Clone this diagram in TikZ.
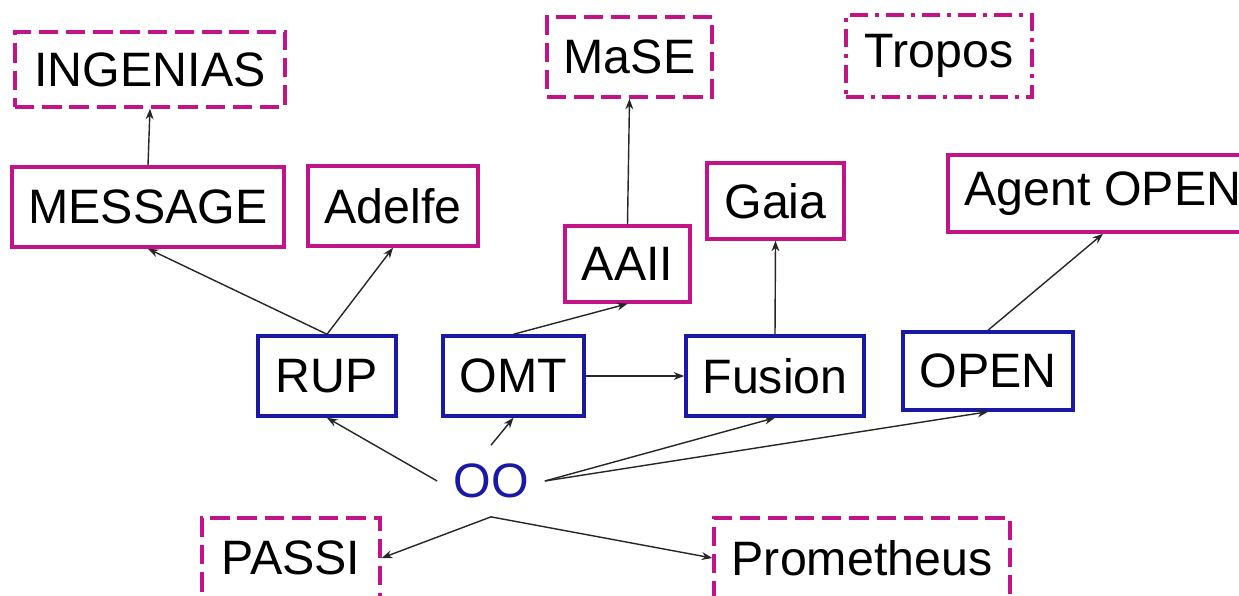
\documentclass[tikz,border=0pt]{standalone}
\usepackage{fontspec}
\setmainfont{Liberation Sans}
\usetikzlibrary{arrows.meta}
\definecolor{mag}{RGB}{195,20,135}
\definecolor{dblue}{RGB}{25,25,165}
\tikzset{
  box/.style={draw, line width=2pt, inner sep=0pt, font=\fontsize{27.5}{32}\selectfont},
  mbox/.style={box, draw=mag},
  bbox/.style={box, draw=dblue},
  dbox/.style={box, draw=mag, dash pattern=on 11pt off 4.5pt},
  ddbox/.style={box, draw=mag, dash pattern=on 10pt off 4pt on 2.5pt off 4pt},
  conn/.style={draw=black!85, line width=0.8pt, -{Stealth[length=6pt,width=4.5pt]}},
}
\begin{document}
\begin{tikzpicture}[x=0.02cm,y=-0.02cm]
\useasboundingbox (0,0) rectangle (1239,595);
\fill[white] (0,0) rectangle (1239,595);
\node[dbox, minimum width=270*0.02cm, minimum height=75*0.02cm] (ingenias) at (150,69.5) {INGENIAS};
\node[mbox, minimum width=272*0.02cm, minimum height=80*0.02cm] (message) at (148,207) {MESSAGE};
\node[mbox, minimum width=170*0.02cm, minimum height=80*0.02cm] (adelfe) at (393,206) {Adelfe};
\node[dbox, minimum width=165*0.02cm, minimum height=80*0.02cm] (mase) at (629.5,57) {MaSE};
\node[ddbox, minimum width=186*0.02cm, minimum height=82*0.02cm] (tropos) at (939,56) {Tropos};
\node[mbox, minimum width=125*0.02cm, minimum height=76*0.02cm] (aaii) at (627.5,264) {AAII};
\node[mbox, minimum width=137*0.02cm, minimum height=76*0.02cm] (gaia) at (775.5,201) {Gaia};
\node[mbox, minimum width=310*0.02cm, minimum height=77*0.02cm] (agentopen) at (1103,193.5) {Agent OPEN};
\node[bbox, minimum width=138*0.02cm, minimum height=80*0.02cm] (rup) at (327,376) {RUP};
\node[bbox, minimum width=141*0.02cm, minimum height=80*0.02cm] (omt) at (513.5,376) {OMT};
\node[bbox, minimum width=178*0.02cm, minimum height=80*0.02cm] (fusion) at (775,376) {Fusion};
\node[bbox, minimum width=170*0.02cm, minimum height=78*0.02cm] (open) at (988,371) {OPEN};
\node[inner sep=0pt, minimum width=107*0.02cm, minimum height=71*0.02cm, text=dblue, font=\fontsize{27.5}{32}\selectfont] (oo) at (491,481) {OO};
\node[dbox, minimum width=178*0.02cm, minimum height=80*0.02cm] (passi) at (291,558) {PASSI};
\node[dbox, minimum width=296*0.02cm, minimum height=80*0.02cm] (prometheus) at (862,558) {Prometheus};

\draw[conn] (message.north) -- (ingenias.south);
\draw[conn] (rup.north) -- (message.south);
\draw[conn] (rup.north) -- (adelfe.south);
\draw[conn] (omt.north) -- (aaii.south);
\draw[conn] (aaii.north) -- (mase.south);
\draw[conn] (fusion.north) -- (gaia.south);
\draw[conn] (open.north) -- (agentopen.south);
\draw[conn] (omt.east) -- (fusion.west);
\draw[conn] (oo.west) -- (rup.south);
\draw[conn] (oo.north) -- (omt.south);
\draw[conn] (oo.east) -- (fusion.south);
\draw[conn] (oo.east) -- (open.south);
\draw[conn] (oo.south) -- (passi.east);
\draw[conn] (oo.south) -- (prometheus.west);
\end{tikzpicture}
\end{document}
